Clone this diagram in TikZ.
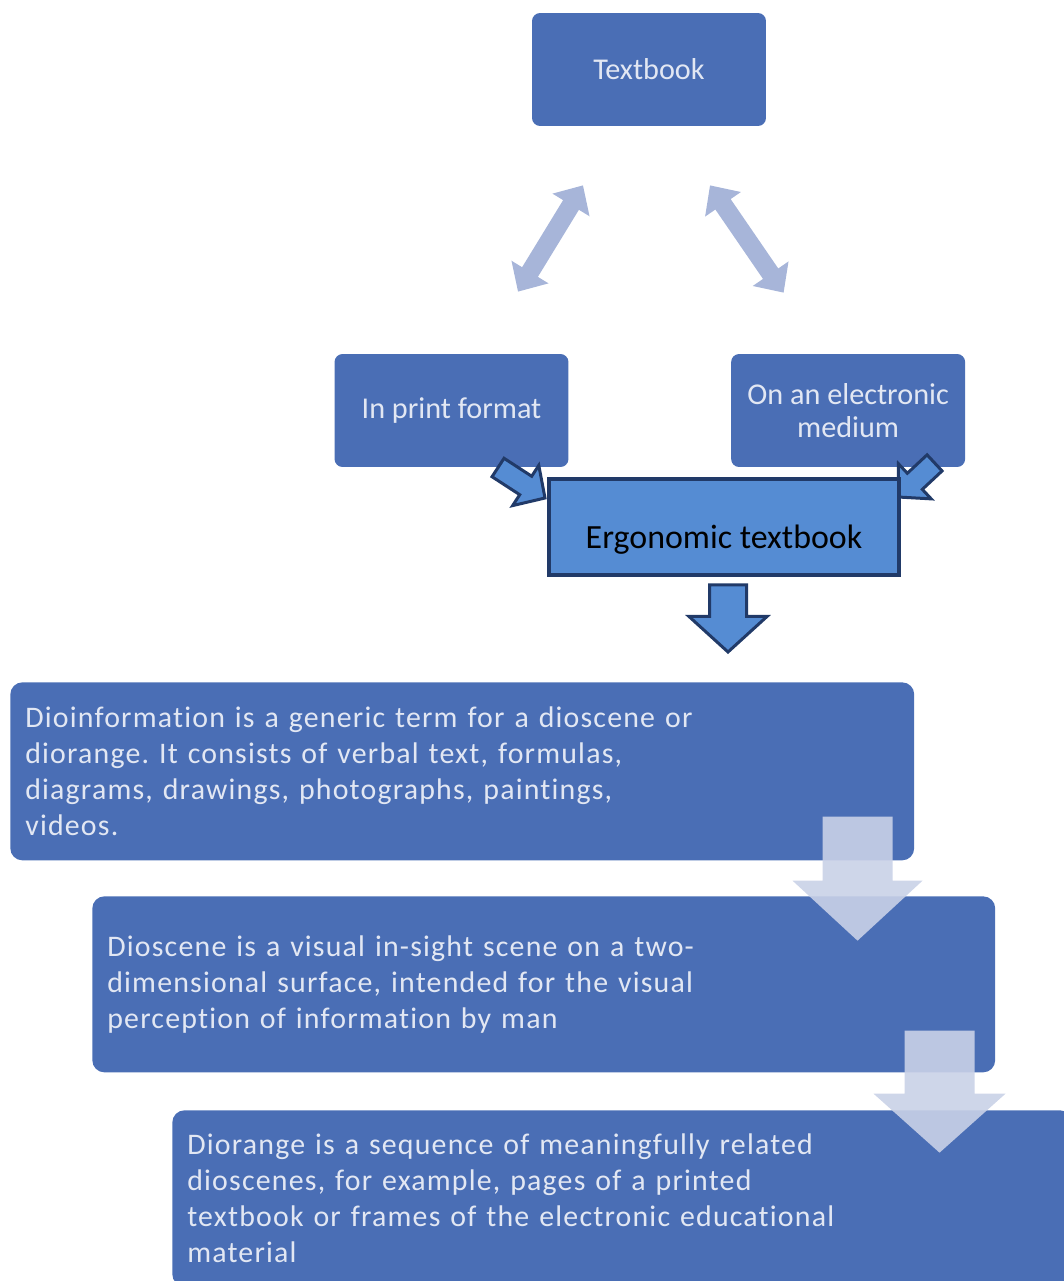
\documentclass[tikz,border=0pt]{standalone}
\usepackage{fontspec}
\setmainfont[Ligatures=CommonOff]{Carlito}
\newfontfamily\wordfont[LetterSpace=4,Ligatures=CommonOff]{Carlito}
\usetikzlibrary{positioning}
\usetikzlibrary{calc}
\usetikzlibrary{arrows.meta}
\definecolor{boxblue}{HTML}{4A6EB5}
\definecolor{boxtext}{HTML}{E2E7F3}
\definecolor{ergofill}{HTML}{558CD3}
\definecolor{ergoline}{HTML}{213A68}
\definecolor{linkblue}{HTML}{A7B5D9}
\definecolor{chevblue}{HTML}{C9D1E7}
\frenchspacing
\tikzset{>=Stealth,
	% small boxes on top
	topbox/.style={fill=boxblue, text=boxtext, rounded corners=0.16cm,
		minimum width=4.68cm, minimum height=2.26cm, inner sep=0pt,
		align=center, font=\fontsize{17.2}{18.7}\selectfont},
	% long boxes with the definitions
	wordbox/.style={fill=boxblue, text=boxtext, rounded corners=0.24cm,
		inner xsep=0.3cm, inner ysep=0pt, align=left, anchor=north west,
		font=\wordfont\fontsize{17}{20.6}\selectfont},
	ergobox/.style={fill=ergofill, draw=ergoline, line width=0.08cm,
		minimum width=7.0cm, minimum height=1.92cm,
		text height=29pt, text depth=4pt, font=\fontsize{19.3}{22}\selectfont},
	% arrows
	linkarrow/.style={draw=linkblue, line width=0.37cm,
		{Triangle[length=0.46cm,width=0.84cm]}-{Triangle[length=0.46cm,width=0.84cm]}},
	chevron/.style={fill=chevblue, fill opacity=0.9},
	outarrow/.style={fill=ergofill, draw=ergoline, line width=0.06cm, line join=miter},
	pics/downarrow/.style n args={4}{code={
		\path[pic actions] (-#1,0) -- (#1,0) -- (#1,#2) -- (#3,#2) -- (0,#4)
			-- (-#3,#2) -- (-#1,#2) -- cycle;}},
	pics/sidearrow/.style={code={
		\path[pic actions] (0,0) -- (-23,24) -- (-23,11) -- (-#1,11) -- (-#1,-11)
			-- (-23,-11) -- (-23,-24) -- cycle;}},
}
\begin{document}
\begin{tikzpicture}[x=0.02cm,y=-0.02cm]
	\useasboundingbox (0,0) rectangle (1063,1281);
	
	\node[topbox] (tb) at (649,69.5) {Textbook};
	\node[topbox] (pf) at (451.5,410.5) {In print format};
	\node[topbox, right=3.24cm of pf] (em) {On an electronic\\medium};
	
	% double arrows
	\coordinate (pftop) at ($(tb.south)+(-66,59)$);
	\coordinate (pfbot) at ($(pf.north)+(66.5,-62)$);
	\coordinate (emtop) at ($(tb.south)+(61,59)$);
	\coordinate (embot) at ($(em.north)+(-64.5,-61)$);
	\draw[linkarrow] (pfbot) -- (pftop);
	\draw[linkarrow] (emtop) -- (embot);
	
	\coordinate (eb) at (724,527);
	\pic[outarrow, rotate=-33] at ($(eb)+(-179,-29)$) {sidearrow=56};
	\pic[outarrow, rotate=-137] at ($(eb)+(174,-30)$) {sidearrow=50};
	\node[ergobox] (eb) at (eb) {Ergonomic textbook};
	\pic[outarrow] at ($(eb.south)+(4,8)$) {downarrow={18.5}{31.5}{39}{67}};
	
	\node[wordbox, text width=17.48cm, minimum height=3.56cm] (d1) at (10,682)
		{Dioinformation is a generic term for a dioscene or\\diorange. It consists of verbal text, formulas,\\diagrams, drawings, photographs, paintings,\\videos.};
	\node[wordbox, text width=17.46cm, minimum height=3.52cm] (d2) at (92,896)
		{Dioscene is a visual in-sight scene on a two-\\dimensional surface, intended for the visual\\perception of information by man};
	\node[wordbox, text width=17.4cm, minimum height=3.52cm] (d3) at (172,1110)
		{Diorange is a sequence of meaningfully related\\dioscenes, for example, pages of a printed\\textbook or frames of the electronic educational\\material};
	
	\pic[chevron] at ($(d1.south east)+(-57,-44)$) {downarrow={35}{64}{65}{124}};
	\pic[chevron] at ($(d2.south east)+(-56,-42)$) {downarrow={35}{63}{66}{122}};
	
\end{tikzpicture}
\end{document}
